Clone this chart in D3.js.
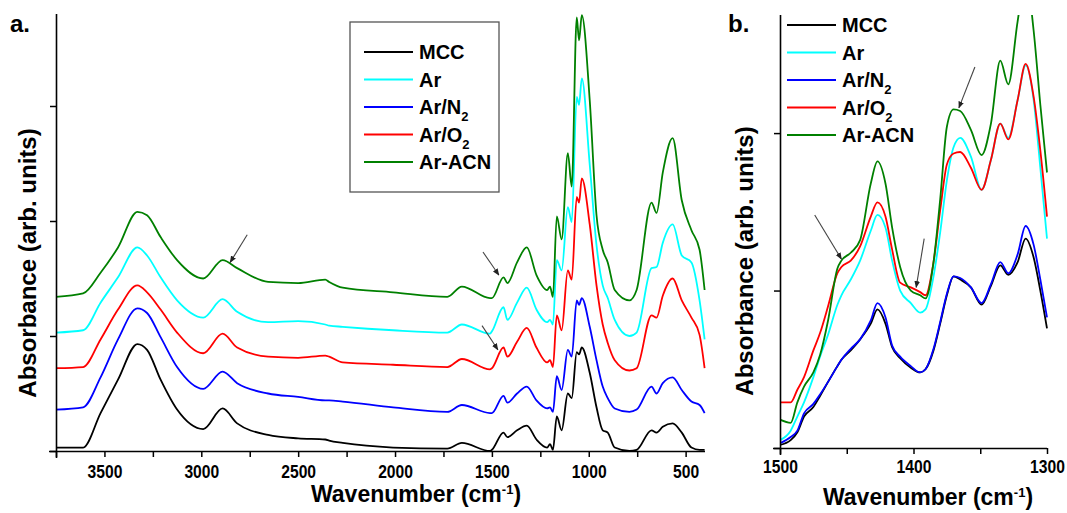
<!DOCTYPE html>
<html><head><meta charset="utf-8">
<script src="https://cdn.jsdelivr.net/npm/d3@7"></script>
<style>
html,body{margin:0;padding:0;background:#fff;}
svg{display:block;font-family:"Liberation Sans",Arial,sans-serif;}
</style></head><body>
<svg id="chart" width="1067" height="513"></svg>
<script>
// ---------- data ----------
const seriesNames = ["MCC", "Ar", "Ar/N2", "Ar/O2", "Ar-ACN"];
const seriesColors = ["#000000", "#00FFFF", "#0000FF", "#FF0000", "#008000"];

// Panel a: full spectra (wavenumber in cm-1, absorbance in arb. units incl. offsets)
const wavenumbersA = [3750,3610,3520,3430,3330,3280,3210,3125,2990,2890,2815,2655,2500,2360,2340,2270,2010,1730,1655,1510,1500,1440,1420,1370,1320,1270,1215,1200,1185,1165,1140,1108,1088,1062,1050,1036,995,960,928,902,866,790,753,676,650,618,567,520,470,428,402];
const mccA   = [0.03,0.03,0.33,0.62,0.93,0.88,0.62,0.36,0.19,0.37,0.24,0.14,0.11,0.10,0.09,0.07,0.03,0.02,0.07,0.00,0.01,0.16,0.12,0.18,0.22,0.10,0.03,0.06,0.01,0.30,0.18,0.50,0.46,0.86,0.84,0.90,0.68,0.38,0.18,0.16,0.03,0.00,0.01,0.18,0.16,0.21,0.24,0.16,0.03,0.01,0.01];
const arA    = [1.03,1.05,1.29,1.51,1.77,1.70,1.51,1.31,1.16,1.32,1.21,1.12,1.13,1.10,1.09,1.08,1.05,1.03,1.10,1.02,1.04,1.25,1.14,1.29,1.42,1.23,1.12,1.14,1.10,1.66,1.57,2.12,1.99,3.08,3.01,3.24,2.49,1.79,1.44,1.33,1.14,1.00,1.03,1.59,1.60,1.81,1.97,1.70,1.64,1.31,0.97];
const arN2A  = [0.36,0.38,0.64,0.97,1.24,1.20,0.99,0.73,0.54,0.69,0.59,0.50,0.47,0.44,0.44,0.43,0.38,0.34,0.40,0.33,0.33,0.48,0.42,0.50,0.56,0.44,0.37,0.38,0.34,0.65,0.53,0.88,0.82,1.31,1.27,1.33,1.08,0.79,0.56,0.46,0.37,0.34,0.36,0.56,0.50,0.59,0.64,0.53,0.43,0.40,0.33];
const arO2A  = [0.72,0.73,0.97,1.23,1.44,1.38,1.23,1.03,0.85,1.02,0.90,0.82,0.81,0.83,0.82,0.77,0.75,0.73,0.80,0.71,0.72,0.90,0.82,0.95,1.07,0.90,0.77,0.79,0.73,1.18,1.05,1.57,1.49,2.21,2.16,2.37,1.97,1.44,1.10,0.94,0.79,0.70,0.72,1.18,1.16,1.35,1.50,1.31,1.16,1.01,0.72];
const arAcnA = [1.34,1.37,1.55,1.77,2.08,2.05,1.86,1.66,1.50,1.66,1.59,1.47,1.46,1.49,1.47,1.42,1.38,1.34,1.43,1.33,1.33,1.51,1.46,1.64,1.77,1.53,1.40,1.43,1.34,2.04,1.84,2.59,2.30,3.77,3.57,3.79,3.05,2.05,1.75,1.64,1.40,1.31,1.40,2.16,2.07,2.42,2.72,2.18,1.92,1.75,1.40];

// Panel b: zoom 1500-1300 cm-1
const wavenumbersB = [1500,1492,1487,1482,1475,1470,1464,1457,1454,1447,1440,1432,1427,1421,1416,1410,1402,1395,1391,1385,1380,1375,1370,1365,1357,1349,1342,1335,1329,1322,1316,1310,1305,1300];
const mccB   = [0.02,0.05,0.10,0.20,0.26,0.33,0.42,0.52,0.56,0.62,0.69,0.79,0.88,0.79,0.64,0.57,0.51,0.48,0.50,0.62,0.79,0.97,1.09,1.07,1.02,0.91,1.03,1.16,1.10,1.18,1.33,1.21,1.00,0.76];
const arB    = [0.05,0.11,0.20,0.29,0.45,0.58,0.72,0.91,0.97,1.07,1.19,1.38,1.48,1.40,1.19,1.00,0.92,0.86,0.88,1.09,1.37,1.70,1.91,1.97,1.85,1.64,1.83,2.06,1.97,2.21,2.43,2.21,1.78,1.33];
const arN2B  = [0.03,0.07,0.11,0.22,0.28,0.34,0.42,0.52,0.56,0.63,0.69,0.81,0.92,0.83,0.65,0.58,0.52,0.48,0.50,0.63,0.80,0.98,1.09,1.08,1.02,0.92,1.04,1.18,1.11,1.23,1.41,1.29,1.07,0.83];
const arO2B  = [0.29,0.29,0.37,0.45,0.62,0.73,0.90,1.11,1.15,1.19,1.28,1.47,1.56,1.47,1.26,1.05,1.02,0.99,0.97,1.18,1.51,1.80,1.87,1.88,1.78,1.64,1.83,2.06,1.96,2.21,2.44,2.23,1.89,1.47];
const arAcnB = [0.18,0.16,0.29,0.39,0.48,0.59,0.81,1.14,1.19,1.24,1.32,1.68,1.82,1.68,1.40,1.15,1.00,0.97,0.95,1.18,1.58,2.04,2.15,2.14,2.02,1.86,2.06,2.46,2.31,2.71,3.00,2.65,2.18,1.75];

// Axis ticks
const xTicksA = [3750,3500,3250,3000,2750,2500,2250,2000,1750,1500,1250,1000,750,500];
const yTicksA = [0,1,2,3];
const xTicksB = [1500,1450,1400,1350,1300];
const yTicksB = [0,1,2];

// Arrow annotations in data units [wavenumber, absorbance]
const arrowsA = [
  {from:[2763,1.88], to:[2851,1.64]},
  {from:[1546,1.73], to:[1464,1.53]},
  {from:[1551,1.09], to:[1469,0.88]}
];
const arrowsB = [
  {from:[1354,2.42], to:[1366,2.16]},
  {from:[1474,1.48], to:[1454,1.20]},
  {from:[1392,1.33], to:[1398,1.02]}
];

// ---------- drawing ----------
const svg = d3.select("#chart");
const FONT = '"Liberation Sans", Arial, sans-serif';

svg.append("defs").append("marker")
  .attr("id","arrowhead").attr("viewBox","0 0 10 10")
  .attr("refX",9).attr("refY",5)
  .attr("markerWidth",7).attr("markerHeight",7)
  .attr("markerUnits","userSpaceOnUse")
  .attr("orient","auto")
  .append("path").attr("d","M0,1 L10,5 L0,9 z").attr("fill","#222");

svg.select("defs").append("clipPath").attr("id","clipB")
  .append("rect").attr("x",780).attr("y",15).attr("width",270).attr("height",440);

function drawPanel(cfg){
  const g = svg.append("g");
  const x = d3.scaleLinear().domain(cfg.xDomain).range(cfg.xRange);
  const y = d3.scaleLinear().domain(cfg.yDomain).range(cfg.yRange);

  const line = d3.line().x(d=>x(d[0])).y(d=>y(d[1])).curve(d3.curveMonotoneX);
  const plot = g.append("g");
  if (cfg.clip) plot.attr("clip-path", "url(#" + cfg.clip + ")");
  cfg.series.forEach((vals, i) => {
    const pts = cfg.wn.map((w, k) => [w, vals[k]]);
    plot.append("path").datum(pts)
      .attr("d", line)
      .attr("fill","none")
      .attr("stroke", seriesColors[i])
      .attr("stroke-width", 1.8)
      .attr("stroke-linejoin","round");
  });

  // axes
  const xAxis = d3.axisBottom(x).tickValues(cfg.xTicks).tickSize(6).tickSizeOuter(0)
    .tickFormat(d => (d % cfg.labelEvery === 0 ? d : ""));
  const gx = g.append("g").attr("transform", `translate(0,${cfg.yRange[0]})`).call(xAxis);
  gx.select(".domain").attr("stroke","#000").attr("stroke-width",1.6)
    .attr("d", `M${cfg.xRange[0]-7},0.5H${cfg.xRange[1]}`);
  gx.selectAll(".tick line").attr("stroke","#000").attr("stroke-width",1.5);
  gx.selectAll(".tick text")
    .filter(d => d % cfg.labelEvery !== 0).remove();
  gx.selectAll(".tick text")
    .attr("y", cfg.tickLabelY)
    .attr("font-family", FONT).attr("font-weight","bold").attr("font-size", 18)
    .attr("fill","#000")
    .attr("transform","scale(0.87,1)");

  const yAxis = d3.axisLeft(y).tickValues(cfg.yTicks).tickSize(6).tickSizeOuter(0).tickFormat("");
  const gy = g.append("g").attr("transform", `translate(${cfg.xRange[0]},0)`).call(yAxis);
  gy.select(".domain").attr("stroke","#000").attr("stroke-width",1.6)
    .attr("d", `M0.5,${cfg.yRange[0]+7}V${cfg.yRange[1]}`);
  gy.selectAll(".tick line").attr("stroke","#000").attr("stroke-width",1.5);
  gy.selectAll(".tick text").remove();

  // arrows
  cfg.arrows.forEach(a => {
    g.append("line")
      .attr("x1", x(a.from[0])).attr("y1", y(a.from[1]))
      .attr("x2", x(a.to[0])).attr("y2", y(a.to[1]))
      .attr("stroke","#444").attr("stroke-width",1.1)
      .attr("marker-end","url(#arrowhead)");
  });

  // axis titles
  const xt = g.append("text")
    .attr("x", cfg.xTitlePos[0]).attr("y", cfg.xTitlePos[1])
    .attr("text-anchor","middle")
    .attr("font-family",FONT).attr("font-weight","bold").attr("font-size",23);
  xt.append("tspan").text("Wavenumber (cm");
  xt.append("tspan").attr("font-size",13).attr("dy",-8).text("-1");
  xt.append("tspan").attr("dy",8).text(")");

  g.append("text")
    .attr("transform", `translate(${cfg.yTitlePos[0]},${cfg.yTitlePos[1]}) rotate(-90)`)
    .attr("text-anchor","middle")
    .attr("font-family",FONT).attr("font-weight","bold").attr("font-size",24)
    .text("Absorbance (arb. units)");

  g.append("text")
    .attr("x", cfg.labelPos[0]).attr("y", cfg.labelPos[1])
    .attr("font-family",FONT).attr("font-weight","bold").attr("font-size",24)
    .text(cfg.label);

  // legend
  const lg = g.append("g");
  if (cfg.legendBox) {
    lg.append("rect").attr("x",cfg.legendBox[0]).attr("y",cfg.legendBox[1])
      .attr("width",cfg.legendBox[2]).attr("height",cfg.legendBox[3])
      .attr("fill","#fff").attr("stroke","#555").attr("stroke-width",1.3);
  }
  seriesNames.forEach((name, i) => {
    const yy = cfg.legendY0 + i * cfg.legendDy;
    lg.append("line")
      .attr("x1", cfg.legendX).attr("x2", cfg.legendX + 49)
      .attr("y1", yy).attr("y2", yy)
      .attr("stroke", seriesColors[i]).attr("stroke-width", 2);
    const t = lg.append("text")
      .attr("x", cfg.legendX + 55).attr("y", yy + 7)
      .attr("font-family",FONT).attr("font-weight","bold").attr("font-size",20);
    const m = name.match(/^(.*[NO])2$/);
    if (m) {
      t.append("tspan").text(m[1]);
      t.append("tspan").attr("font-size",13).attr("dy",7).text("2");
    } else {
      t.text(name);
    }
  });
}

drawPanel({
  wn: wavenumbersA,
  series: [mccA, arA, arN2A, arO2A, arAcnA],
  xDomain: [3750, 400], xRange: [56, 705],
  yDomain: [0, 3.8], yRange: [451, 14],
  xTicks: xTicksA, yTicks: yTicksA, labelEvery: 500, tickLabelY: 14,
  arrows: arrowsA,
  xTitlePos: [416, 502], yTitlePos: [36, 263],
  label: "a.", labelPos: [10, 32],
  legendBox: [350, 22, 149, 170], legendX: 364, legendY0: 52, legendDy: 27.5
});

drawPanel({
  wn: wavenumbersB,
  series: [mccB, arB, arN2B, arO2B, arAcnB],
  xDomain: [1500, 1300], xRange: [780, 1047],
  yDomain: [0, 2.75], yRange: [448, 15],
  xTicks: xTicksB, yTicks: yTicksB, labelEvery: 100, tickLabelY: 12,
  arrows: arrowsB, clip: "clipB",
  xTitlePos: [928, 505], yTitlePos: [753, 261],
  label: "b.", labelPos: [728, 32],
  legendBox: null, legendX: 787, legendY0: 25, legendDy: 27.5
});
</script>
</body></html>
